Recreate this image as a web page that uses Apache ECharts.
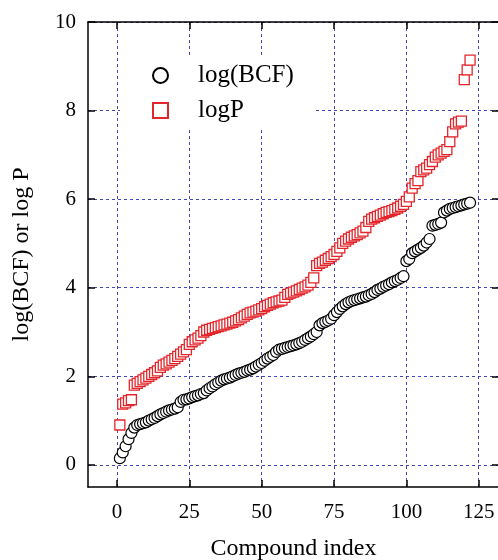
<!DOCTYPE html>
<html>
<head>
<meta charset="utf-8">
<script src="https://cdn.jsdelivr.net/npm/echarts@6/dist/echarts.min.js"></script>
<style>
  html, body { margin: 0; padding: 0; background: #fff; }
  #chart { width: 498px; height: 560px; }
</style>
</head>
<body>
<div id="chart"></div>
<script>
var xTicks = [0, 25, 50, 75, 100, 125];
var yTicks = [0, 2, 4, 6, 8, 10];

// sorted values, compound index 1..122
var logBCF = [
  0.15, 0.28, 0.42, 0.58, 0.72, 0.84, 0.90, 0.92, 0.94, 0.96,
  1.00, 1.03, 1.06, 1.10, 1.14, 1.17, 1.20, 1.23, 1.25, 1.27,
  1.30, 1.42, 1.47, 1.48, 1.50, 1.53, 1.55, 1.57, 1.60, 1.62,
  1.68, 1.73, 1.77, 1.82, 1.86, 1.90, 1.93, 1.95, 1.97, 2.00,
  2.03, 2.06, 2.08, 2.10, 2.13, 2.15, 2.18, 2.22, 2.26, 2.30,
  2.35, 2.40, 2.44, 2.48, 2.55, 2.60, 2.62, 2.64, 2.66, 2.68,
  2.70, 2.72, 2.75, 2.78, 2.82, 2.86, 2.90, 2.95, 3.00, 3.15,
  3.20, 3.23, 3.26, 3.30, 3.38, 3.45, 3.52, 3.58, 3.63, 3.67,
  3.70, 3.72, 3.74, 3.76, 3.78, 3.80, 3.83, 3.86, 3.90, 3.95,
  3.98, 4.02, 4.05, 4.08, 4.12, 4.15, 4.18, 4.22, 4.26, 4.60,
  4.65, 4.78, 4.82, 4.86, 4.90, 4.95, 5.02, 5.10, 5.40, 5.42,
  5.44, 5.47, 5.70, 5.74, 5.78, 5.80, 5.82, 5.84, 5.86, 5.88,
  5.90, 5.92
];
var logP = [
  0.90, 1.37, 1.40, 1.45, 1.47, 1.80, 1.84, 1.88, 1.92, 1.96,
  2.00, 2.04, 2.08, 2.12, 2.20, 2.25, 2.28, 2.32, 2.36, 2.40,
  2.45, 2.50, 2.55, 2.60, 2.72, 2.78, 2.82, 2.86, 2.92, 3.00,
  3.04, 3.06, 3.08, 3.10, 3.12, 3.14, 3.16, 3.18, 3.20, 3.22,
  3.25, 3.28, 3.32, 3.36, 3.40, 3.43, 3.45, 3.47, 3.50, 3.53,
  3.57, 3.60, 3.63, 3.66, 3.68, 3.70, 3.72, 3.78, 3.85, 3.88,
  3.90, 3.93, 3.96, 3.99, 4.02, 4.06, 4.12, 4.22, 4.50, 4.55,
  4.58, 4.62, 4.66, 4.70, 4.75, 4.82, 4.90, 5.00, 5.05, 5.10,
  5.14, 5.17, 5.20, 5.24, 5.28, 5.36, 5.50, 5.55, 5.58, 5.61,
  5.64, 5.67, 5.70, 5.72, 5.74, 5.77, 5.80, 5.84, 5.88, 5.95,
  6.05, 6.25, 6.35, 6.42, 6.62, 6.66, 6.70, 6.78, 6.85, 6.95,
  7.00, 7.04, 7.08, 7.12, 7.30, 7.52, 7.70, 7.74, 7.76, 8.70,
  8.92, 9.14
];

function toPoints(arr) {
  return arr.map(function (v, i) { return [i + 1, v]; });
}

var font = 'Liberation Serif';
var gridLine = { show: true, lineStyle: { color: '#4646b2', width: 1, type: [3, 3] } };
var frame = { show: true, onZero: false, lineStyle: { color: '#000', width: 1.5 } };
var tick = function (vals) {
  return { inside: true, length: 7, lineStyle: { width: 1.5, color: '#000' }, customValues: vals };
};

var myChart = echarts.init(document.getElementById('chart'));
var option = {
  animation: false,
  textStyle: { fontFamily: font },
  grid: { left: 88, right: -1, top: 22, bottom: 73, outerBoundsMode: 'none', containLabel: false },
  legend: {
    orient: 'vertical',
    left: 120,
    top: 55,
    padding: [8, 20, 6, 32],
    backgroundColor: '#fff',
    itemWidth: 15,
    itemHeight: 15,
    itemGap: 10,
    textStyle: { fontFamily: font, fontSize: 25, color: '#000', padding: [0, 0, 0, 25] },
    data: [
      { name: 'log(BCF)', icon: 'circle' },
      { name: 'logP', icon: 'rect' }
    ]
  },
  xAxis: [
    {
      type: 'value', min: -10, max: 132,
      name: 'Compound index', nameLocation: 'middle', nameGap: 50,
      nameTextStyle: { fontFamily: font, fontSize: 24, color: '#000' },
      axisLine: frame,
      axisTick: tick(xTicks),
      axisLabel: { fontFamily: font, fontSize: 21, color: '#000', margin: 15, customValues: xTicks },
      splitLine: gridLine
    },
    {
      type: 'value', min: -10, max: 132, position: 'top',
      axisLine: frame,
      axisTick: tick(xTicks),
      axisLabel: { show: false },
      splitLine: { show: false }
    }
  ],
  yAxis: [
    {
      type: 'value', min: -0.5, max: 10,
      name: 'log(BCF) or log P', nameLocation: 'middle', nameGap: 54,
      nameTextStyle: { fontFamily: font, fontSize: 24, color: '#000' },
      axisLine: frame,
      axisTick: tick(yTicks),
      axisLabel: { fontFamily: font, fontSize: 21, color: '#000', margin: 12, customValues: yTicks },
      splitLine: gridLine
    },
    {
      type: 'value', min: -0.5, max: 10, position: 'right',
      axisLine: frame,
      axisTick: tick(yTicks),
      axisLabel: { show: false },
      splitLine: { show: false }
    }
  ],
  series: [
    {
      name: 'log(BCF)',
      type: 'scatter',
      symbol: 'circle',
      symbolSize: 11,
      itemStyle: { color: '#fff', borderColor: '#000', borderWidth: 1.2, opacity: 1 },
      data: toPoints(logBCF)
    },
    {
      name: 'logP',
      type: 'scatter',
      symbol: 'rect',
      symbolSize: 10,
      itemStyle: { color: '#fff', borderColor: '#e3262b', borderWidth: 1.3, opacity: 1 },
      data: toPoints(logP)
    }
  ]
};
myChart.setOption(option);
</script>
</body>
</html>
